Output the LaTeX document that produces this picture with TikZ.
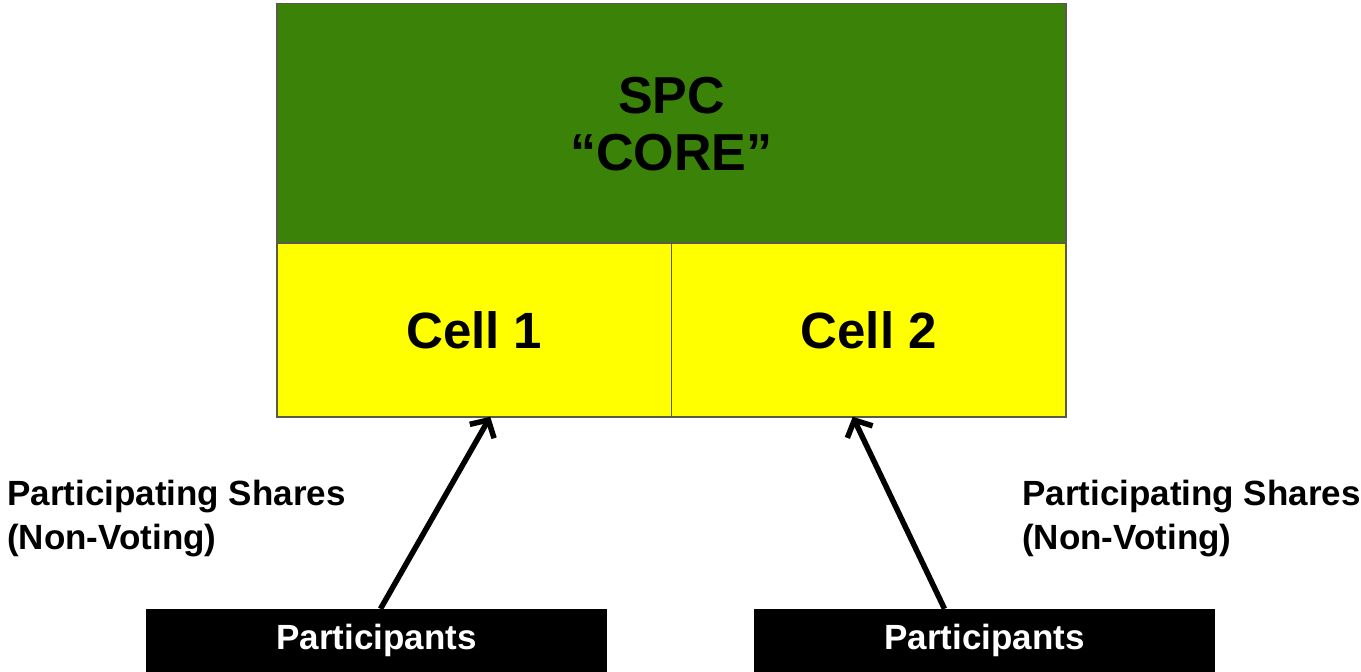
\documentclass[tikz,border=0pt]{standalone}
\usepackage{fontspec}
\setmainfont{Liberation Sans}
\usepackage{tikz}
\usetikzlibrary{calc, positioning, arrows.meta}
\definecolor{coregreen}{RGB}{58,130,8}
\definecolor{cellyellow}{RGB}{255,255,0}
\definecolor{edgegray}{RGB}{90,90,70}
\tikzstyle{core}=[draw=edgegray, line width=1.5pt, fill=coregreen, shape=rectangle, inner sep=0pt, minimum width=789pt, minimum height=241pt, font=\fontsize{52}{57}\selectfont\bfseries, align=center]
\tikzstyle{cell}=[draw=edgegray, line width=1.5pt, fill=cellyellow, shape=rectangle, inner sep=0pt, minimum width=394.5pt, minimum height=174pt, font=\fontsize{51}{56}\selectfont\bfseries]
\tikzstyle{party}=[fill=black, text=white, shape=rectangle, inner sep=0pt, minimum width=461pt, minimum height=63pt, font=\fontsize{35}{42}\selectfont\bfseries]
\tikzstyle{share}=[inner sep=0pt, anchor=north west, align=left, font=\fontsize{35}{44}\selectfont\bfseries]
\tikzset{>={Straight Barb[length=13pt, width=28pt, line width=5.5pt]}}

\begin{document}
\begin{tikzpicture}[x=1pt, y=-1pt]
\useasboundingbox (0,0) rectangle (1361,672);
% the core and its two cells
\node[core] (SPC) at (671.5, 124) {SPC\\``CORE''};
\node[cell] (C1) at (474.25, 330) {Cell 1};
\node[cell] (C2) at (868.75, 330) {Cell 2};
% the participants
\node[party] (P1) at (376.5, 640.5) {Participants};
\node[party] (P2) at (984.5, 640.5) {Participants};
% the share labels
\node[share] (S1) at (7, 480) {Participating Shares\\(Non-Voting)};
\node[share] (S2) at (1022, 480) {Participating Shares\\(Non-Voting)};
% the arrows
\draw[->, line width=5.5pt] ([xshift=4pt]P1.north) -- ([xshift=16pt, yshift=1pt]C1.south);
\draw[->, line width=5.5pt] ([xshift=-40pt]P2.north) -- ([xshift=-16pt, yshift=1pt]C2.south);
\end{tikzpicture}
\end{document}
